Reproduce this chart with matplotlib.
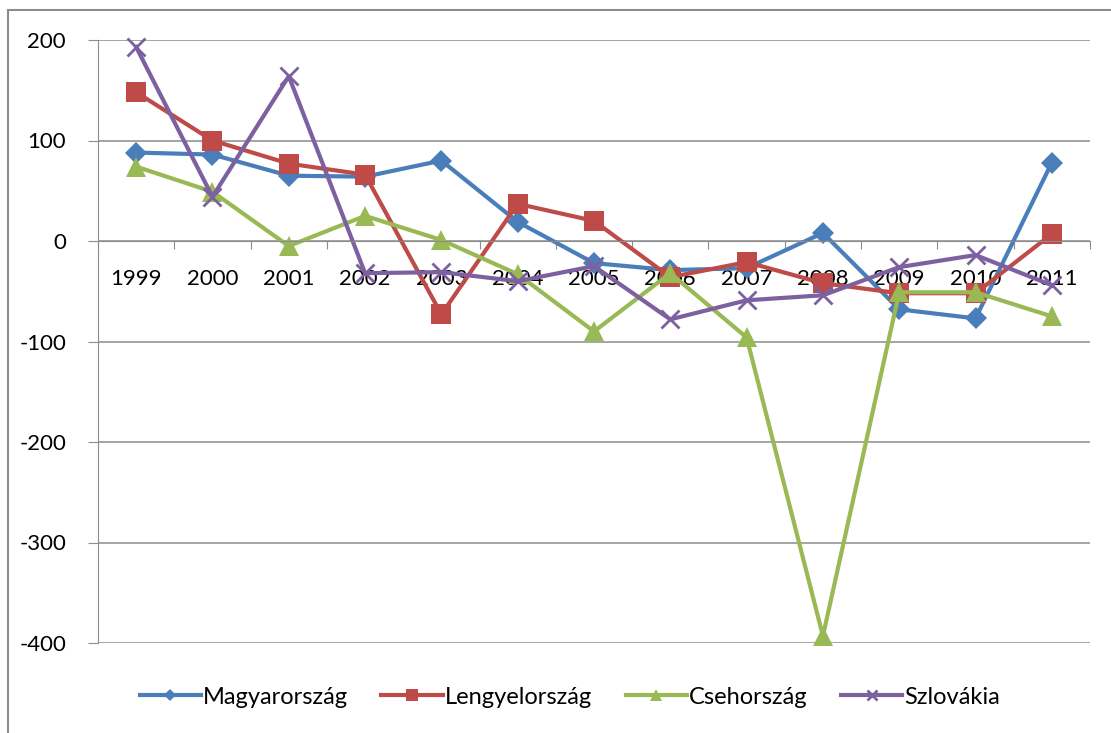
import matplotlib.pyplot as plt
from matplotlib.patches import Rectangle

years = ['1999', '2000', '2001', '2002', '2003', '2004', '2005',
         '2006', '2007', '2008', '2009', '2010', '2011']
magyarorszag = [88, 86, 65, 64, 80, 19, -22, -29, -27, 8, -68, -77, 78]
lengyelorszag = [148, 100, 77, 66, -73, 37, 20, -36, -21, -42, -52, -52, 7]
csehorszag = [74, 49, -5, 25, 1, -33, -90, -32, -96, -393, -51, -51, -75]
szlovakia = [193, 44, 164, -32, -31, -40, -25, -78, -59, -54, -26, -14, -44]

series = [
    ('Magyarország', magyarorszag, '#4A7EBB', 'D', 11),
    ('Lengyelország', lengyelorszag, '#BE4B48', 's', 14),
    ('Csehország', csehorszag, '#98B954', '^', 14),
    ('Szlovákia', szlovakia, '#7D60A0', 'x', 13),
]

plt.rcParams['font.family'] = ['Lato', 'DejaVu Sans']
plt.rcParams['axes.unicode_minus'] = False

W, H = 1111, 733
fig = plt.figure(figsize=(W / 100, H / 100), dpi=100)
ax = fig.add_axes([98 / W, 1 - 643 / H, (1090 - 98) / W, (643 - 40) / H])

x = list(range(len(years)))
for name, vals, col, mk, ms in series:
    ax.plot(x, vals, color=col, lw=3, marker=mk, ms=ms, mew=2 if mk == 'x' else 0,
            mec=col, mfc=col, label=name, clip_on=False)

ax.set_xlim(-0.5, len(years) - 0.5)
ax.set_ylim(-400, 200)
ax.set_yticks(range(-400, 201, 100))
ax.yaxis.grid(True, color='#8c8c8c', lw=1.1)
ax.set_axisbelow(True)

ax.spines['top'].set_visible(False)
ax.spines['right'].set_visible(False)
ax.spines['left'].set_color('#8c8c8c')
ax.spines['bottom'].set_position(('data', 0))
ax.spines['bottom'].set_color('#8c8c8c')

ax.set_xticks([i - 0.5 for i in range(len(years) + 1)], minor=False)
ax.set_xticklabels([])
ax.set_xticks(x, minor=True)
ax.set_xticklabels(years, minor=True)
ax.tick_params(axis='x', which='major', length=6, color='#8c8c8c', direction='out')
ax.tick_params(axis='x', which='minor', length=0, pad=20, labelsize=16)
ax.tick_params(axis='y', length=7, color='#8c8c8c', pad=16, labelsize=16)

fig.legend(loc='center', bbox_to_anchor=(570 / W, 1 - 697 / H), ncol=4,
           frameon=False, fontsize=17, handlelength=2.6, columnspacing=1.4,
           handletextpad=0.1, markerscale=0.6)

fig.patches.append(Rectangle((8 / W, -0.1), 1.2, (H - 10) / H + 0.1,
                             transform=fig.transFigure, fill=False,
                             edgecolor='#8c8c8c', lw=1.5))

plt.savefig('out.png', dpi=100)
